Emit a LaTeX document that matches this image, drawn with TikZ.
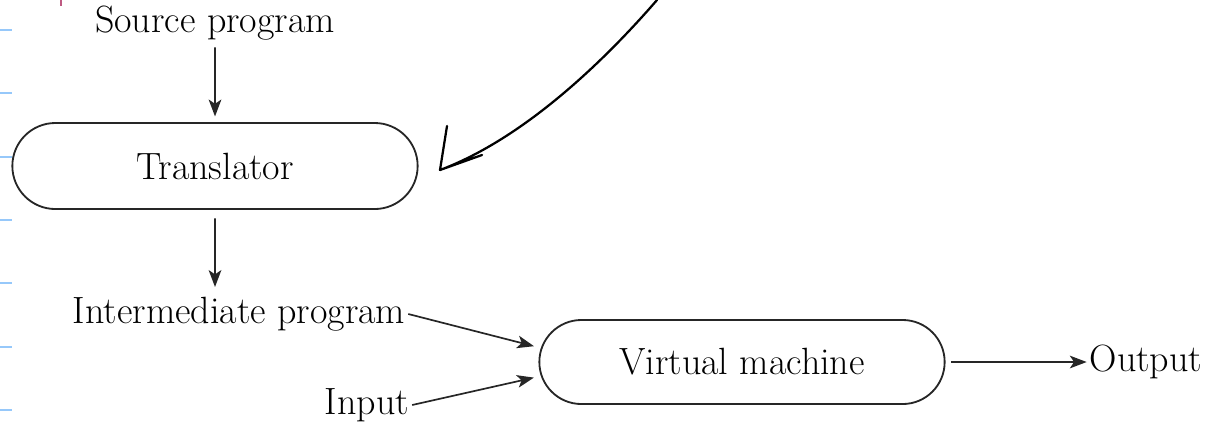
\documentclass[tikz,border=0pt]{standalone}
\usepackage{xcolor}
\usepackage{tikz}
\usetikzlibrary{arrows.meta,positioning,shapes.misc}

\definecolor{ruleblue}{RGB}{150,200,250}
\definecolor{marginpink}{RGB}{190,90,130}

\tikzset{
	machine/.style={rounded rectangle,draw=black!85,line width=1.3pt,
		minimum width=10.13cm,minimum height=2.15cm,inner sep=0pt},
	txt/.style={inner sep=2pt},
	arr/.style={-{Stealth[length=12pt,width=9pt,inset=3pt]},line width=1.2pt,black!85},
}

\begin{document}
\begin{tikzpicture}[x=0.025cm,y=-0.025cm,font=\fontsize{27}{32}\selectfont]
	\useasboundingbox (0,0) rectangle (1207,424);
	% ruled paper
	\foreach \y in {30,93,157,220,283,347,410}
		\draw[ruleblue,line width=1.2pt] (0,\y) -- (12,\y);
	\draw[marginpink,line width=1.2pt] (61,0) -- (61,6);
	% boxes and labels
	\node[txt] (src) at (215,23) {Source program};
	\node[machine] (trans) at (215,166) {Translator};
	\node[txt] (inter) at (239,314) {Intermediate program};
	\node[txt] (inp) at (367,405) {Input};
	\node[machine,minimum height=2.1cm] (vm) at (742,362) {Virtual machine};
	\node[txt] (out) at (1146,362) {Output};
	\coordinate (tip) at (215,287);
	% connectors
	\draw[arr,shorten <=3pt,shorten >=4pt] (src) -- (trans);
	\draw[arr,shorten <=6pt] (trans) -- (tip);
	\draw[arr,shorten >=5pt] (inter.east) -- (vm.176);
	\draw[arr,shorten >=5pt] (inp.east) -- (vm.184);
	\draw[arr,shorten <=4pt] (vm) -- (out);
	% hand drawn arrow
	\draw[line width=1.6pt,line cap=round,line join=round]
		(657,0) .. controls (605,60) and (525,138) .. (440,170)
		-- (447,126) (440,170) -- (482,155);
\end{tikzpicture}
\end{document}
